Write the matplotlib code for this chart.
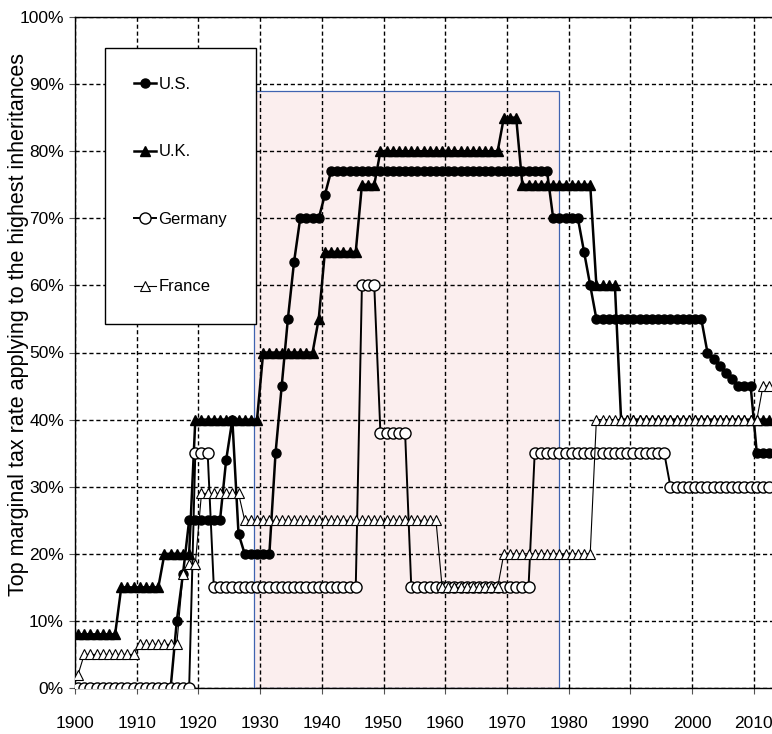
import numpy as np
import matplotlib.pyplot as plt
from matplotlib.patches import Rectangle

plt.rcParams['font.family'] = ['Liberation Sans', 'DejaVu Sans']

# top marginal inheritance tax rates (%), one value per year 1900-2012
years = list(range(1900, 2013))

us = [
    0, 0, 0, 0, 0, 0, 0, 0, 0, 0,            # 1900s
    0, 0, 0, 0, 0, 0, 10, 17, 25, 25,        # 1910s
    25, 25, 25, 25, 34, 40, 23, 20, 20, 20,  # 1920s
    20, 20, 35, 45, 55, 63.5, 70, 70, 70, 70,  # 1930s
    73.5, 77, 77, 77, 77, 77, 77, 77, 77, 77,  # 1940s
    77, 77, 77, 77, 77, 77, 77, 77, 77, 77,  # 1950s
    77, 77, 77, 77, 77, 77, 77, 77, 77, 77,  # 1960s
    77, 77, 77, 77, 77, 77, 77, 70, 70, 70,  # 1970s
    70, 70, 65, 60, 55, 55, 55, 55, 55, 55,  # 1980s
    55, 55, 55, 55, 55, 55, 55, 55, 55, 55,  # 1990s
    55, 55, 50, 49, 48, 47, 46, 45, 45, 45,  # 2000s
    35, 35, 35,                              # 2010s
]

uk = [
    8, 8, 8, 8, 8, 8, 8, 15, 15, 15,
    15, 15, 15, 15, 20, 20, 20, 20, 20, 40,
    40, 40, 40, 40, 40, 40, 40, 40, 40, 40,
    50, 50, 50, 50, 50, 50, 50, 50, 50, 55,
    65, 65, 65, 65, 65, 65, 75, 75, 75, 80,
    80, 80, 80, 80, 80, 80, 80, 80, 80, 80,
    80, 80, 80, 80, 80, 80, 80, 80, 80, 85,
    85, 85, 75, 75, 75, 75, 75, 75, 75, 75,
    75, 75, 75, 75, 60, 60, 60, 60, 40, 40,
    40, 40, 40, 40, 40, 40, 40, 40, 40, 40,
    40, 40, 40, 40, 40, 40, 40, 40, 40, 40,
    40, 40, 40,
]

germany = [
    0, 0, 0, 0, 0, 0, 0, 0, 0, 0,
    0, 0, 0, 0, 0, 0, 0, 0, 0, 35,
    35, 35, 15, 15, 15, 15, 15, 15, 15, 15,
    15, 15, 15, 15, 15, 15, 15, 15, 15, 15,
    15, 15, 15, 15, 15, 15, 60, 60, 60, 38,
    38, 38, 38, 38, 15, 15, 15, 15, 15, 15,
    15, 15, 15, 15, 15, 15, 15, 15, 15, 15,
    15, 15, 15, 15, 35, 35, 35, 35, 35, 35,
    35, 35, 35, 35, 35, 35, 35, 35, 35, 35,
    35, 35, 35, 35, 35, 35, 30, 30, 30, 30,
    30, 30, 30, 30, 30, 30, 30, 30, 30, 30,
    30, 30, 30,
]

france = [
    2, 5, 5, 5, 5, 5, 5, 5, 5, 5,
    6.5, 6.5, 6.5, 6.5, 6.5, 6.5, 6.5, 17, 18.5, 18.5,
    29, 29, 29, 29, 29, 29, 29, 25, 25, 25,
    25, 25, 25, 25, 25, 25, 25, 25, 25, 25,
    25, 25, 25, 25, 25, 25, 25, 25, 25, 25,
    25, 25, 25, 25, 25, 25, 25, 25, 25, 15,
    15, 15, 15, 15, 15, 15, 15, 15, 15, 20,
    20, 20, 20, 20, 20, 20, 20, 20, 20, 20,
    20, 20, 20, 20, 40, 40, 40, 40, 40, 40,
    40, 40, 40, 40, 40, 40, 40, 40, 40, 40,
    40, 40, 40, 40, 40, 40, 40, 40, 40, 40,
    40, 45, 45,
]

shade_years = (1929, 1978.5)
shade_top = 89

fig = plt.figure(figsize=(7.72, 7.34), dpi=100)
ax = fig.add_axes([75 / 772, 46 / 734, 697 / 772, 671 / 734])

# category-style x axis: each year sits in the middle of its slot
pos = np.arange(len(years)) + 0.5

ax.add_patch(Rectangle((shade_years[0] - years[0], 0), shade_years[1] - shade_years[0], shade_top,
                       facecolor='#fbeeee', edgecolor='#3f63b0', lw=0.9, zorder=0.3))

ax.plot(pos, us, color='black', lw=1.8, marker='o', ms=6.5, label='U.S.', zorder=3)
ax.plot(pos, uk, color='black', lw=1.8, marker='^', ms=6.5, label='U.K.', zorder=3)
ax.plot(pos, germany, color='black', lw=1.4, marker='o', ms=8, mfc='white', mec='black', mew=1.0,
        label='Germany', zorder=3)
ax.plot(pos, france, color='black', lw=0.8, marker='^', ms=7, mfc='white', mec='black', mew=0.8,
        label='France', zorder=3)

ax.set_xlim(0, 112.96)
ax.set_ylim(0, 100)
ax.set_xticks(np.arange(0, 111, 10))
ax.set_xticklabels([str(y) for y in years[::10]])
ax.set_yticks(range(0, 101, 10))
ax.set_yticklabels([f'{v}%' for v in range(0, 101, 10)])
ax.tick_params(axis='both', direction='out', length=4, width=0.8, color='#555555', labelsize=12.5)
ax.tick_params(axis='x', pad=16)
ax.tick_params(axis='y', pad=4)

ax.grid(True, color='black', linestyle=(0, (3, 2)), lw=1.0)
ax.set_axisbelow(True)
ax.spines['right'].set_visible(False)
for s in ['left', 'bottom', 'top']:
    ax.spines[s].set_linewidth(1.0)

ax.set_ylabel('Top marginal tax rate applying to the highest inheritances', fontsize=15.5)
ax.yaxis.set_label_coords(-0.066, 0.541)

leg = ax.legend(loc='upper left', bbox_to_anchor=(105 / 772, 1 - 47.7 / 734), bbox_transform=fig.transFigure,
                fancybox=False, edgecolor='black', framealpha=1, borderpad=1.75, labelspacing=3.15,
                handlelength=1.3, handletextpad=0.15, borderaxespad=0, fontsize=12)
leg.get_frame().set_linewidth(1.0)

fig.savefig('out.png', dpi=100)
